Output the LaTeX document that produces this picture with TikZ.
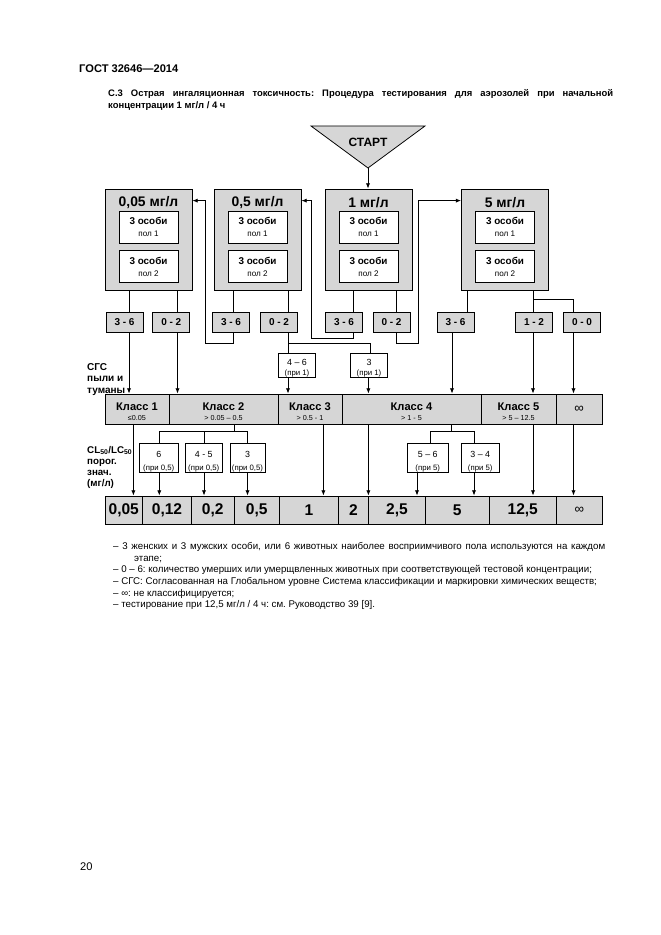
\documentclass[tikz,border=0pt]{standalone}
\usepackage{fontspec}
\setmainfont{Liberation Sans}
\usetikzlibrary{positioning,calc,arrows.meta}
\frenchspacing

\definecolor{boxgray}{RGB}{214,214,214}
\newcommand{\upx}{0.9004pt}
\newcommand{\osobi}[1]{{\bfseries\fontsize{8.9}{10}\selectfont 3 особи}\\{\fontsize{7.3}{8}\selectfont пол #1}}
\newcommand{\klass}[2]{{\bfseries\fontsize{10}{11}\selectfont\rule{0pt}{11.7pt}#1}\\{\fontsize{6.5}{7}\selectfont #2}}
\newcommand{\pri}[3]{{\fontsize{8}{9}\selectfont\rule{0pt}{#3}#1}\\{\fontsize{7}{8}\selectfont (при #2)}}

\begin{document}
\begin{tikzpicture}[
    x=\upx, y=-\upx,
    conc/.style={draw, fill=boxgray, line width=0.7pt, minimum width=87*\upx, minimum height=101*\upx},
    ctitle/.style={font=\bfseries\fontsize{12.5}{14}\selectfont, inner sep=0pt},
    grp/.style={draw, fill=white, line width=0.6pt, minimum width=59*\upx, minimum height=32*\upx, inner sep=0pt, align=center, font=\fontsize{7}{10.4}\selectfont},
    score/.style={draw, fill=boxgray, line width=0.7pt, minimum width=37*\upx, minimum height=20*\upx, inner sep=0pt, font=\bfseries\fontsize{9}{10}\selectfont},
    sub/.style={draw, fill=white, line width=0.6pt, minimum height=24*\upx, inner sep=0pt, align=center, font=\fontsize{6}{9}\selectfont},
    cls/.style={draw, fill=boxgray, line width=0.7pt, minimum height=30*\upx, inner sep=0pt, align=center, font=\fontsize{6}{8.8}\selectfont},
    val/.style={draw, fill=boxgray, line width=0.7pt, minimum height=28*\upx, inner sep=0pt, font=\bfseries\fontsize{14}{16}\selectfont},
    lbl/.style={align=left, inner sep=0pt, anchor=north west},
    ln/.style={line width=0.8pt},
    arr/.style={ln, -{Latex[length=4.8pt,width=3.8pt]}}
]

    \path[use as bounding box, fill=white] (0,0) rectangle (661,935);

    % Page head
    \node[anchor=base west, inner sep=0pt, font=\bfseries\fontsize{10}{12}\selectfont] (gost) at (79,72.5) {ГОСТ 32646—2014};
    \node[anchor=base west, inner sep=0pt, font=\bfseries\fontsize{8.5}{10.8}\selectfont] (title1) at (108,96.5)
        {\makebox[454.7pt][s]{С.3 Острая ингаляционная токсичность: Процедура тестирования для аэрозолей при начальной}};
    \node[anchor=base west, inner sep=0pt, font=\bfseries\fontsize{8.5}{10.8}\selectfont] (title2) at (108,108.5)
        {концентрации 1 мг/л / 4 ч};

    % Start
    \filldraw[fill=boxgray, line width=0.7pt] (311,126) -- (425,126) -- (368,168) -- cycle;
    \node[font=\bfseries\fontsize{10.8}{12}\selectfont, inner sep=0pt] (start) at (368,142) {СТАРТ};
    \coordinate (tip) at (368,168);

    % Concentrations
    \node[conc] (b1) at (148.5,239.5) {};
    \node[ctitle] (t1) at (148.5,203) {0,05 мг/л};
    \node[grp] (g1a) at (148.5,227) {\osobi{1}};
    \node[grp, below=6.3pt of g1a] (g1b) {\osobi{2}};

    \node[conc] (b2) at (257.5,239.5) {};
    \node[ctitle] (t2) at (257.5,203) {0,5 мг/л};
    \node[grp] (g2a) at (257.5,227) {\osobi{1}};
    \node[grp, below=6.3pt of g2a] (g2b) {\osobi{2}};

    \node[conc] (b3) at (368.5,239.5) {};
    \node[ctitle] (t3) at (368.5,203) {1 мг/л};
    \node[grp] (g3a) at (368.5,227) {\osobi{1}};
    \node[grp, below=6.3pt of g3a] (g3b) {\osobi{2}};

    \node[conc] (b4) at (505,239.5) {};
    \node[ctitle] (t4) at (505,203) {5 мг/л};
    \node[grp] (g4a) at (505,227) {\osobi{1}};
    \node[grp, below=6.3pt of g4a] (g4b) {\osobi{2}};

    % Dead animals
    \node[score] (s1) at (124.5,322) {3 - 6};
    \node[score] (s2) at (171.3,322) {0 - 2};
    \node[score] (s3) at (231,322) {3 - 6};
    \node[score] (s4) at (279,322) {0 - 2};
    \node[score] (s5) at (344,322) {3 - 6};
    \node[score] (s6) at (391.5,322) {0 - 2};
    \node[score] (s7) at (455.5,322) {3 - 6};
    \node[score] (s8) at (534,322) {1 - 2};
    \node[score] (s9) at (582,322) {0 - 0};

    \node[sub, minimum width=37*\upx] (p1) at (297,365) {\pri{4 – 6}{1}{11pt}};
    \node[sub, minimum width=37*\upx] (p2) at (369,365) {\pri{3}{1}{11pt}};

    % GHS classes
    \node[cls, minimum width=64*\upx] (k1) at (137,409) {\klass{Класс 1}{≤0.05}};
    \node[cls, minimum width=109*\upx] (k2) at (223.5,409) {\klass{Класс 2}{> 0.05 – 0.5}};
    \node[cls, minimum width=64*\upx] (k3) at (310,409) {\klass{Класс 3}{> 0.5 - 1}};
    \node[cls, minimum width=139*\upx] (k4) at (411.5,409) {\klass{Класс 4}{> 1 - 5}};
    \node[cls, minimum width=75*\upx] (k5) at (518.5,409) {\klass{Класс 5}{> 5 – 12.5}};
    \node[cls, minimum width=46*\upx, font=\fontsize{12}{14}\selectfont] (k6) at (579,409) {∞};

    \node[sub, minimum width=38.5*\upx, minimum height=29*\upx, font=\fontsize{6}{11.5}\selectfont] (q1) at (158.75,458) {\pri{6}{0,5}{12.8pt}};
    \node[sub, minimum width=37.5*\upx, minimum height=29*\upx, font=\fontsize{6}{11.5}\selectfont] (q2) at (203.75,458) {\pri{4 - 5}{0,5}{12.8pt}};
    \node[sub, minimum width=35*\upx, minimum height=29*\upx, font=\fontsize{6}{11.5}\selectfont] (q3) at (247.5,458) {\pri{3}{0,5}{12.8pt}};
    \node[sub, minimum width=41.5*\upx, minimum height=29*\upx, font=\fontsize{6}{11.5}\selectfont] (q4) at (427.75,458) {\pri{5 – 6}{5}{12.8pt}};
    \node[sub, minimum width=38*\upx, minimum height=29*\upx, font=\fontsize{6}{11.5}\selectfont] (q5) at (480.25,458) {\pri{3 – 4}{5}{12.8pt}};

    % Cut-off values
    \node[val, minimum width=37.5*\upx] (v1) at (123.75,510) {0,05};
    \node[val, minimum width=49*\upx] (v2) at (167,510) {0,12};
    \node[val, minimum width=42.5*\upx] (v3) at (212.75,510) {0,2};
    \node[val, minimum width=45.5*\upx] (v4) at (256.75,510) {0,5};
    \node[val, minimum width=59*\upx] (v5) at (309,510) {1};
    \node[val, minimum width=30*\upx] (v6) at (353.5,510) {2};
    \node[val, minimum width=57*\upx] (v7) at (397,510) {2,5};
    \node[val, minimum width=63.5*\upx] (v8) at (457.25,510) {5};
    \node[val, minimum width=67.5*\upx] (v9) at (522.75,510) {12,5};
    \node[val, minimum width=45.5*\upx, font=\fontsize{12}{14}\selectfont] (v10) at (579.25,510) {∞};

    % Side labels
    \node[lbl, font=\bfseries\fontsize{9}{10.4}\selectfont] (ghs) at (87,363) {СГС\\пыли и\\туманы};
    \node[lbl, font=\bfseries\fontsize{8.8}{9.9}\selectfont] (lc) at (87,446) {CL\textsubscript{50}/LC\textsubscript{50}\\порог.\\знач.\\(мг/л)};

    % Channels
    \coordinate (ch1) at (129,0);
    \coordinate (ch2) at (177.5,0);
    \coordinate (ch3) at (233.5,0);
    \coordinate (ch4) at (288,0);
    \coordinate (ch5) at (353,0);
    \coordinate (ch6) at (396,0);
    \coordinate (ch7) at (467,0);
    \coordinate (ch7b) at (452,0);
    \coordinate (ch8) at (533,0);
    \coordinate (ch9) at (573.5,0);
    \coordinate (ch10) at (370,0);
    \coordinate (ch11) at (368.4,0);
    \coordinate (dn1) at (133.4,0);
    \coordinate (dn2) at (159.3,0);
    \coordinate (dn3) at (204,0);
    \coordinate (dn4) at (247.5,0);
    \coordinate (dn5) at (323.4,0);
    \coordinate (dn6) at (430,0);
    \coordinate (dn7) at (417,0);
    \coordinate (dn8) at (474,0);
    \coordinate (lp1) at (205,343);
    \coordinate (lp2) at (311.6,338);
    \coordinate (lp3) at (418,343);
    \coordinate (j5) at (533,299);
    \coordinate (j2) at (234.5,431.7);
    \coordinate (j4) at (451,431.7);

    % Start arrow
    \draw[arr] (tip) -- (b3.north -| tip);

    % Boxes to dead animals
    \draw[ln] (b1.south -| ch1) -- (s1.north -| ch1);
    \draw[ln] (b1.south -| ch2) -- (s2.north -| ch2);
    \draw[ln] (b2.south -| ch3) -- (s3.north -| ch3);
    \draw[ln] (b2.south -| ch4) -- (s4.north -| ch4);
    \draw[ln] (b3.south -| ch5) -- (s5.north -| ch5);
    \draw[ln] (b3.south -| ch6) -- (s6.north -| ch6);
    \draw[ln] (b4.south -| ch7) -- (s7.north -| ch7);
    \draw[ln] (b4.south -| ch8) -- (s8.north -| ch8);
    \draw[ln] (j5) -| (s9.north -| ch9);

    % Next concentration
    \draw[arr] (s3.south -| ch3) |- (lp1) |- ($(b1.north east)+(0,12)$);
    \draw[arr] (s5.south -| ch5) |- (lp2) |- ($(b2.north east)+(0,12)$);
    \draw[arr] (s6.south -| ch6) |- (lp3) |- ($(b4.north west)+(0,12)$);

    \draw[ln] (s4.south -| ch4) -- (p1.north -| ch4);
    \draw[ln] (lp1 -| ch4) -| (p2.north -| ch10);

    % To classes
    \draw[arr] (s1.south -| ch1) -- (k1.north -| ch1);
    \draw[arr] (s2.south -| ch2) -- (k2.north -| ch2);
    \draw[arr] (p1.south -| ch4) -- (k3.north -| ch4);
    \draw[arr] (p2.south -| ch11) -- (k4.north -| ch11);
    \draw[arr] (s7.south -| ch7b) -- (k4.north -| ch7b);
    \draw[arr] (s8.south -| ch8) -- (k5.north -| ch8);
    \draw[arr] (s9.south -| ch9) -- (k6.north -| ch9);

    % To cut-off values
    \draw[arr] (k1.south -| dn1) -- (v1.north -| dn1);
    \draw[ln] (k2.south -| j2) -- (j2);
    \draw[ln] (q1.north -| dn2) |- (j2) -| (q3.north -| dn4);
    \draw[ln] (j2 -| dn3) -- (q2.north -| dn3);
    \draw[arr] (q1.south -| dn2) -- (v2.north -| dn2);
    \draw[arr] (q2.south -| dn3) -- (v3.north -| dn3);
    \draw[arr] (q3.south -| dn4) -- (v4.north -| dn4);
    \draw[arr] (k3.south -| dn5) -- (v5.north -| dn5);
    \draw[arr] (k4.south -| ch11) -- (v7.north -| ch11);
    \draw[ln] (k4.south -| j4) -- (j4);
    \draw[ln] (q4.north -| dn6) |- (j4) -| (q5.north -| dn8);
    \draw[arr] (q4.south -| dn7) -- (v7.north -| dn7);
    \draw[arr] (q5.south -| dn8) -- (v8.north -| dn8);
    \draw[arr] (k5.south -| ch8) -- (v9.north -| ch8);
    \draw[arr] (k6.south -| ch9) -- (v10.north -| ch9);

    % Notes
    \node[lbl, font=\fontsize{8.75}{10.5}\selectfont] (notes) at (113,542)
        {\makebox[443pt][s]{– 3 женских и 3 мужских особи, или 6 животных наиболее восприимчивого пола используются на каждом}\\
         \hspace*{18.9pt}этапе;\\
         – 0 – 6: количество умерших или умерщвленных животных при соответствующей тестовой концентрации;\\
         – СГС: Согласованная на Глобальном уровне Система классификации и маркировки химических веществ;\\
         – ∞: не классифицируется;\\
         – тестирование при 12,5 мг/л / 4 ч: см. Руководство 39 [9].};

    \node[anchor=base west, inner sep=0pt, font=\fontsize{10}{12}\selectfont] (pnum) at (80,870) {20};

\end{tikzpicture}
\end{document}
